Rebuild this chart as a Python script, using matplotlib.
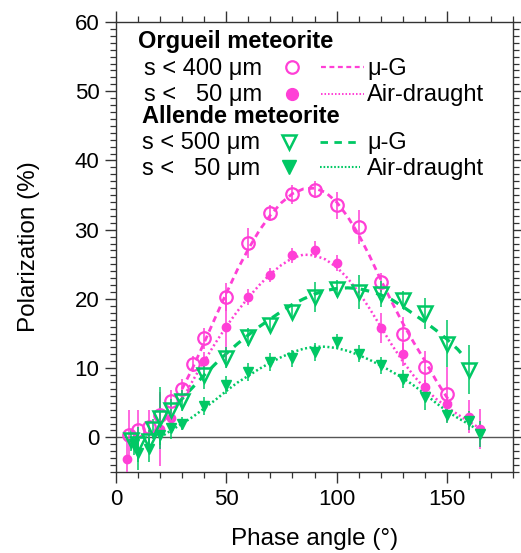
import matplotlib
matplotlib.use("Agg")
import matplotlib.pyplot as plt
from matplotlib.ticker import MultipleLocator

plt.rcParams['font.family'] = ['Liberation Sans', 'DejaVu Sans']

# ---------------- data ----------------
# Orgueil s < 400 um (micro-G), open circles
org400_x = [6, 10, 15, 20, 25, 30, 35, 40, 50, 60, 70, 80, 90, 100, 110, 120, 130, 140, 150]
org400_y = [0.4, 1.0, 1.5, 3.2, 5.3, 7.0, 10.6, 14.3, 20.3, 28.1, 32.4, 35.1, 35.8, 33.5, 30.4, 22.4, 15.0, 10.1, 6.2]
org400_e = [3.5, 3.0, 2.5, 3.0, 1.5, 1.5, 1.2, 1.5, 2.0, 2.2, 1.2, 1.4, 1.2, 2.0, 2.4, 1.4, 2.4, 2.4, 4.0]

# Orgueil s < 50 um (air-draught), filled circles
org50_x = [5, 20, 25, 40, 50, 60, 70, 80, 90, 100, 120, 130, 140, 150, 160, 165]
org50_y = [-3.1, 1.2, 2.8, 11.1, 16.0, 20.3, 23.4, 26.3, 27.1, 25.2, 15.8, 12.0, 7.3, 4.8, 3.0, 1.2]
org50_e = [2.5, 5.4, 1.0, 1.2, 5.0, 1.2, 1.0, 1.1, 1.2, 1.1, 2.2, 1.7, 1.0, 1.0, 2.4, 2.9]

# Allende s < 500 um (micro-G), open triangles
all500_x = [7, 10, 15, 17, 20, 25, 30, 40, 50, 60, 70, 80, 90, 100, 110, 120, 130, 140, 150, 160]
all500_y = [-0.4, -1.0, -0.5, 1.2, 2.8, 4.0, 5.3, 9.0, 11.5, 14.5, 16.2, 18.1, 20.3, 21.5, 21.0, 20.7, 19.8, 17.9, 13.5, 9.8]
all500_e = [1.5, 2.5, 1.5, 1.5, 4.5, 1.5, 1.5, 2.0, 1.5, 1.3, 1.0, 1.0, 2.2, 1.2, 2.4, 1.9, 1.3, 2.2, 3.4, 3.6]

# Allende s < 50 um (air-draught), filled triangles
all50_x = [8, 10, 15, 20, 25, 30, 40, 50, 60, 70, 80, 90, 100, 110, 120, 130, 140, 150, 160, 165]
all50_y = [-1.0, -2.2, -1.7, 0.4, 1.3, 2.0, 4.5, 7.6, 9.4, 10.9, 11.4, 12.3, 13.8, 12.1, 10.4, 8.5, 5.8, 3.3, 2.4, 0.5]
all50_e = [1.5, 2.5, 1.8, 1.5, 1.5, 1.0, 1.3, 1.3, 1.3, 1.3, 1.2, 1.3, 1.1, 1.2, 1.2, 1.3, 1.8, 1.2, 1.4, 1.9]

# fitted curves
orgG_x = [30, 35, 40, 45, 50, 55, 60, 65, 70, 75, 80, 85, 90, 95, 100, 105, 110, 115, 120, 125, 130, 135, 140, 145, 150, 152]
orgG_y = [7.0, 10.2, 13.7, 17.3, 20.8, 24.2, 27.2, 29.9, 32.1, 33.9, 35.2, 35.9, 36.0, 35.4, 34.0, 31.9, 29.3, 26.2, 22.8, 19.6, 16.5, 13.7, 11.1, 8.3, 5.8, 4.9]

orgA_x = [30, 35, 40, 45, 50, 55, 60, 65, 70, 75, 80, 85, 90, 95, 100, 105, 110, 115, 120, 125, 130, 135, 140, 145, 150, 155, 160, 165]
orgA_y = [5.5, 8.3, 11.0, 13.6, 16.0, 18.2, 20.2, 22.0, 23.6, 24.9, 25.9, 26.4, 26.3, 25.7, 24.6, 23.0, 21.0, 18.6, 16.0, 13.4, 11.0, 8.9, 7.1, 5.6, 4.4, 3.3, 2.3, 1.3]

allG_x = [28, 30, 35, 40, 45, 50, 55, 60, 65, 70, 75, 80, 85, 90, 95, 100, 105, 110, 115, 120, 125, 130, 135, 140, 145, 150, 155, 158]
allG_y = [4.9, 5.6, 7.3, 9.0, 10.6, 12.1, 13.5, 14.8, 16.0, 17.1, 18.2, 19.2, 20.0, 20.7, 21.2, 21.5, 21.6, 21.5, 21.1, 20.6, 19.9, 18.9, 17.8, 16.7, 15.5, 14.2, 12.7, 11.6]

allA_x = [20, 25, 30, 35, 40, 45, 50, 55, 60, 65, 70, 75, 80, 85, 90, 95, 100, 105, 110, 115, 120, 125, 130, 135, 140, 145, 150, 155, 160, 165]
allA_y = [0.0, 1.0, 2.0, 3.0, 4.2, 5.4, 6.7, 7.9, 8.9, 9.9, 10.8, 11.6, 12.3, 12.8, 13.1, 13.1, 12.9, 12.5, 11.9, 11.2, 10.4, 9.5, 8.6, 7.5, 6.3, 5.0, 3.8, 2.8, 1.9, 0.9]

# ---------------- style ----------------
MAG = '#ff3fd6'
GRN = '#00c864'
W, H = 521, 553
fig = plt.figure(figsize=(W / 100, H / 100), dpi=100)
L, R, T, B = 116, 513, 22, 472
ax = fig.add_axes([L / W, 1 - B / H, (R - L) / W, (B - T) / H])

ax.axhline(0, color='#555555', lw=1.0, zorder=1)

# curves
ax.plot(orgG_x, orgG_y, color=MAG, lw=2.0, dashes=(2.2, 1.6), zorder=2)
ax.plot(orgA_x, orgA_y, color=MAG, lw=1.8, dashes=(0.8, 1.1), zorder=2)
ax.plot(allG_x, allG_y, color=GRN, lw=2.3, dashes=(2.7, 2.3), zorder=2)
ax.plot(allA_x, allA_y, color=GRN, lw=1.8, dashes=(0.8, 1.0), zorder=2)

ebk = dict(ls='none', elinewidth=1.1, capsize=0, zorder=3)
ax.errorbar(org400_x, org400_y, yerr=org400_e, fmt='o', ms=9, mfc='none', mec=MAG, mew=1.6, ecolor=MAG, **ebk)
ax.errorbar(org50_x, org50_y, yerr=org50_e, fmt='o', ms=6, mfc=MAG, mec=MAG, ecolor=MAG, **ebk)
ax.errorbar(all500_x, all500_y, yerr=all500_e, fmt='v', ms=10, mfc='none', mec=GRN, mew=1.8, ecolor=GRN, **ebk)
ax.errorbar(all50_x, all50_y, yerr=all50_e, fmt='v', ms=6.5, mfc=GRN, mec=GRN, ecolor=GRN, **ebk)

ax.set_xlim(0, 180)
ax.set_ylim(-5, 60)
ax.set_xticks([0, 50, 100, 150])
ax.xaxis.set_minor_locator(MultipleLocator(10))
ax.set_yticks([0, 10, 20, 30, 40, 50, 60])
ax.yaxis.set_minor_locator(MultipleLocator(1))
ax.tick_params(which='both', direction='out', top=True, right=True,
               labeltop=False, labelright=False, colors='#333333', labelcolor='black')
ax.tick_params(which='major', length=8, width=1.0, labelsize=16, pad=4)
ax.tick_params(which='minor', length=4, width=0.9)
for s in ax.spines.values():
    s.set_color('#333333')
    s.set_linewidth(1.0)

ax.set_xlabel('Phase angle (°)', fontsize=17.5)
ax.set_ylabel('Polarization (%)', fontsize=17.5)
ax.xaxis.set_label_coords(0.5, (B - 528) / (B - T))
ax.yaxis.set_label_coords((40 - L) / (R - L), 0.5)

# ---------------- legend (drawn in axes fraction) ----------------
def fx(px):
    return (px - L) / (R - L)

def fy(py):
    return (B - py) / (B - T)

tr = ax.transAxes
FS = 17
ax.text(fx(138), fy(48), 'Orgueil meteorite', fontsize=FS, fontweight='bold', va='baseline', transform=tr)
ax.text(fx(144), fy(74.5), 's < 400 μm', fontsize=FS, va='baseline', transform=tr)
ax.text(fx(144), fy(101), 's <   50 μm', fontsize=FS, va='baseline', transform=tr)
ax.text(fx(142), fy(123), 'Allende meteorite', fontsize=FS, fontweight='bold', va='baseline', transform=tr)
ax.text(fx(142), fy(148.5), 's < 500 μm', fontsize=FS, va='baseline', transform=tr)
ax.text(fx(142), fy(175), 's <   50 μm', fontsize=FS, va='baseline', transform=tr)

ax.plot([fx(292)], [fy(67)], 'o', ms=9, mfc='none', mec=MAG, mew=1.6, transform=tr)
ax.plot([fx(292)], [fy(94)], 'o', ms=8.5, mfc=MAG, mec=MAG, transform=tr)
ax.plot([fx(289)], [fy(142)], 'v', ms=10, mfc='none', mec=GRN, mew=1.8, transform=tr)
ax.plot([fx(289)], [fy(167)], 'v', ms=10, mfc=GRN, mec=GRN, transform=tr)

ax.plot([fx(321), fx(364)], [fy(67), fy(67)], color=MAG, lw=1.6, dashes=(2.2, 1.6), transform=tr)
ax.plot([fx(321), fx(364)], [fy(94), fy(94)], color=MAG, lw=1.4, dashes=(0.8, 1.0), transform=tr)
ax.plot([fx(320), fx(358)], [fy(142), fy(142)], color=GRN, lw=2.0, dashes=(2.7, 2.3), transform=tr)
ax.plot([fx(320), fx(360)], [fy(167), fy(167)], color=GRN, lw=1.5, dashes=(0.8, 0.9), transform=tr)

ax.text(fx(367), fy(74.5), 'μ-G', fontsize=FS, va='baseline', transform=tr)
ax.text(fx(367), fy(101), 'Air-draught', fontsize=FS, va='baseline', transform=tr)
ax.text(fx(367), fy(148.5), 'μ-G', fontsize=FS, va='baseline', transform=tr)
ax.text(fx(367), fy(175), 'Air-draught', fontsize=FS, va='baseline', transform=tr)

fig.savefig('out.png', dpi=100)
